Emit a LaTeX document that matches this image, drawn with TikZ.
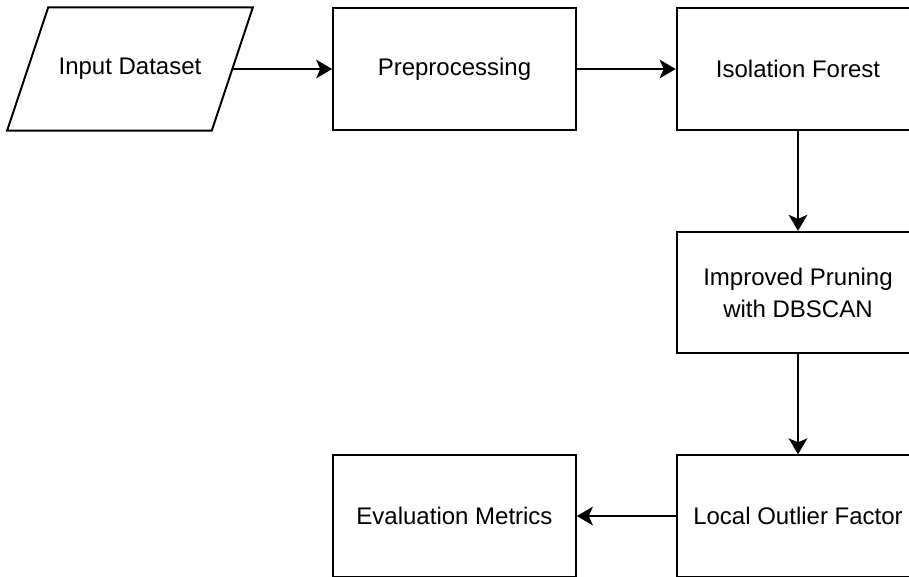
\documentclass[tikz,border=0pt]{standalone}
\usepackage{fontspec}
\setmainfont{Liberation Sans}
\usetikzlibrary{arrows.meta}
\begin{document}
\begin{tikzpicture}[x=0.75pt, y=-0.75pt, >={Stealth[length=12pt,width=14pt,inset=3pt]},
  stage box/.style={draw, line width=1.5pt, minimum width=182pt, minimum height=91pt,
    align=center, font=\fontsize{18}{24}\selectfont},
  io box/.style={draw=none, minimum width=152pt},
  flow/.style={->, line width=1.5pt}]

\clip (0,0) rectangle (909,576);
\useasboundingbox (0,0) rectangle (909,576);

\node [stage box, io box] (input) at (130,69) {Input Dataset};
\draw [line width=1.5pt, line join=miter]
  ([xshift=-15.4pt]input.south west) -- ([xshift=15.4pt]input.north west)
  -- ([xshift=15.4pt]input.north east) -- ([xshift=-15.4pt]input.south east) -- cycle;
\node [stage box] (prep) at (454.5,69) {Preprocessing};
\node [stage box] (iforest) at (798,69) {Isolation Forest};
\node [stage box] (prune) at (798,292.5) {Improved Pruning\\with DBSCAN};
\node [stage box] (lof) at (798,516) {Local Outlier Factor};
\node [stage box] (eval) at (454.5,516) {Evaluation Metrics};

\foreach \a/\b in {input/prep, prep/iforest, iforest/prune, prune/lof, lof/eval}
  \draw [flow] (\a) -- (\b);

\end{tikzpicture}
\end{document}
